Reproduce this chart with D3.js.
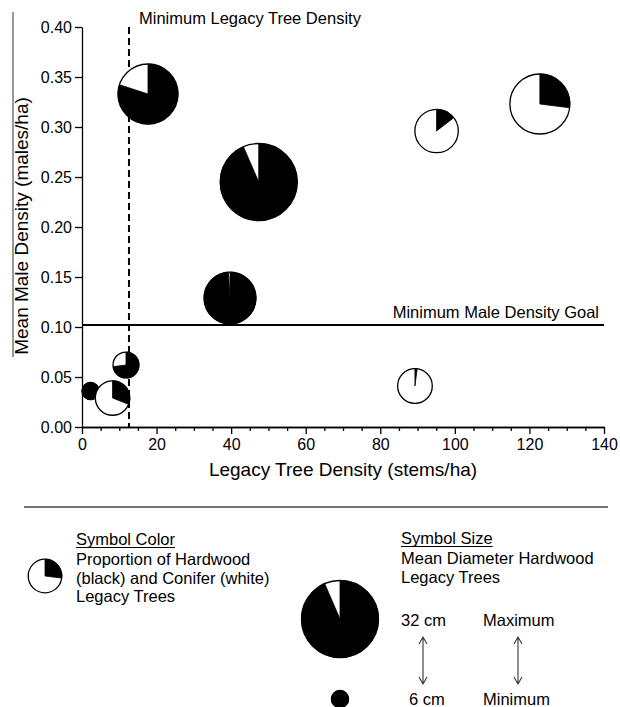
<!DOCTYPE html>
<html>
<head>
<meta charset="utf-8">
<script src="https://cdnjs.cloudflare.com/ajax/libs/d3/7.8.5/d3.min.js"></script>
<style>
  body { margin: 0; background: #fff; }
  svg { display: block; font-family: "Liberation Sans", Arial, sans-serif; }
  .axis path, .axis line { stroke: #000; stroke-width: 1.3; }
  .axis text { font-size: 16px; fill: #000; }
</style>
</head>
<body>
<svg id="chart" width="620" height="707"></svg>
<script>
// site values
const legacyDensity = [2.3, 8.2, 11.8, 17.7, 39.7, 47.4, 89.3, 95.1, 122.8];     // stems/ha
const maleDensity   = [0.036, 0.029, 0.062, 0.333, 0.129, 0.245, 0.041, 0.296, 0.323]; // males/ha
const hardwoodShare = [1.00, 0.31, 0.73, 0.80, 0.99, 0.935, 0.02, 0.145, 0.27];  // black part
const meanDiameter  = [6, 13.5, 9.8, 24.6, 21.1, 32, 13.6, 17.4, 24.6];           // cm

const xTicks = [0, 20, 40, 60, 80, 100, 120, 140];
const yTicks = [0.00, 0.05, 0.10, 0.15, 0.20, 0.25, 0.30, 0.35, 0.40];
const minLegacyDensity = 12.6;
const minMaleDensity = 0.102;

// legend: size key uses the largest and smallest site, colour key a mixed site
const sizeKeyLabels = ["32 cm", "6 cm"];
const sizeKeyNames = ["Maximum", "Minimum"];
const sizeKeySites = [5, 0];
const colorKeySite = 8;
const colorKeyLines = ["Proportion of Hardwood", "(black) and Conifer (white)", "Legacy Trees"];
const sizeKeyLines = ["Mean  Diameter Hardwood", "Legacy Trees"];

const svg = d3.select("#chart");

const x = d3.scaleLinear().domain([0, 140]).range([82, 604]);
const y = d3.scaleLinear().domain([0, 0.4]).range([427, 27]);
const r = d3.scaleLinear().domain([6, 32]).range([8.6, 38.5]);

const pie = d3.pie().sort(null).value(d => d);
const arc = d3.arc().innerRadius(0);

function drawPie(g, cx, cy, radius, share) {
    const p = g.append("g").attr("transform", `translate(${cx},${cy})`);
    p.append("circle").attr("r", radius)
        .attr("fill", "#fff").attr("stroke", "#000").attr("stroke-width", 1.3);
    const slices = pie([share, 1 - share]);
    p.append("path")
        .attr("d", arc.outerRadius(radius)(slices[0]))
        .attr("fill", "#000").attr("stroke", "#000").attr("stroke-width", 0.8);
}

// stray frame line at the left edge
svg.append("line").attr("x1", 13).attr("x2", 13).attr("y1", 12).attr("y2", 357)
    .attr("stroke", "#333").attr("stroke-width", 1);

// axes
svg.append("g").attr("class", "axis")
    .attr("transform", "translate(82,0)")
    .call(d3.axisLeft(y).tickValues(yTicks).tickSize(7).tickSizeOuter(0).tickPadding(3)
        .tickFormat(d3.format(".2f")));

const minorX = d3.range(0, 141, 5).filter(v => v % 20 !== 0);
svg.append("g").attr("class", "axis")
    .attr("transform", "translate(0,427)")
    .call(d3.axisBottom(x).tickValues(minorX).tickSize(4).tickSizeOuter(0).tickFormat(""));
svg.append("g").attr("class", "axis")
    .attr("transform", "translate(0,427)")
    .call(d3.axisBottom(x).tickValues(xTicks).tickSize(7).tickSizeOuter(0).tickPadding(5));

svg.append("text")
    .attr("x", 343).attr("y", 476).attr("text-anchor", "middle")
    .attr("font-size", 19).text("Legacy Tree Density (stems/ha)");
svg.append("text")
    .attr("transform", "translate(28,226) rotate(-90)")
    .attr("text-anchor", "middle").attr("font-size", 19)
    .text("Mean Male Density (males/ha)");

// reference lines
svg.append("line")
    .attr("x1", x(minLegacyDensity)).attr("x2", x(minLegacyDensity))
    .attr("y1", y(0.4)).attr("y2", y(0))
    .attr("stroke", "#000").attr("stroke-width", 2).attr("stroke-dasharray", "7,4");
svg.append("text").attr("x", x(minLegacyDensity) + 10).attr("y", 24)
    .attr("font-size", 16.5).text("Minimum  Legacy Tree Density");

svg.append("line")
    .attr("x1", x(0)).attr("x2", x(140))
    .attr("y1", y(minMaleDensity)).attr("y2", y(minMaleDensity))
    .attr("stroke", "#000").attr("stroke-width", 2);
svg.append("text").attr("x", 599).attr("y", y(minMaleDensity) - 7)
    .attr("text-anchor", "end").attr("font-size", 16.5).text("Minimum Male Density Goal");

// pie symbols
const sites = legacyDensity.map((v, i) => ({
    lx: v, my: maleDensity[i], share: hardwoodShare[i], diam: meanDiameter[i]
}));
const plot = svg.append("g");
sites.forEach(d => drawPie(plot, x(d.lx), y(d.my), r(d.diam), d.share));

// legend
svg.append("line").attr("x1", 24).attr("x2", 608).attr("y1", 507).attr("y2", 507)
    .attr("stroke", "#444").attr("stroke-width", 1.5);

const legend = svg.append("g").attr("font-size", 16.5);

function heading(txt, lx, ly) {
    const t = legend.append("text").attr("x", lx).attr("y", ly).text(txt);
    const w = t.node().getComputedTextLength();
    legend.append("line").attr("x1", lx).attr("x2", lx + w)
        .attr("y1", ly + 2.5).attr("y2", ly + 2.5)
        .attr("stroke", "#000").attr("stroke-width", 1.2);
}

heading("Symbol Color", 76, 545);
colorKeyLines.forEach((s, i) => legend.append("text").attr("x", 76).attr("y", 565 + i * 18.5).text(s));
drawPie(legend, 45, 576, 16.8, hardwoodShare[colorKeySite]);

heading("Symbol Size", 401, 544);
sizeKeyLines.forEach((s, i) => legend.append("text").attr("x", 401).attr("y", 563.5 + i * 19.5).text(s));

const keyY = [619, 699];
sizeKeySites.forEach((si, i) => drawPie(legend, 340, keyY[i], r(meanDiameter[si]), hardwoodShare[si]));

const labelY = [626, 705];
sizeKeyLabels.forEach((s, i) => legend.append("text").attr("x", i === 0 ? 401 : 409).attr("y", labelY[i]).text(s));
sizeKeyNames.forEach((s, i) => legend.append("text").attr("x", 483).attr("y", labelY[i]).text(s));

// double-headed arrows between max and min
[423, 518].forEach(ax => {
    const top = 637, bot = 684;
    legend.append("path")
        .attr("d", `M${ax},${top}V${bot}M${ax - 4},${top + 7}L${ax},${top}L${ax + 4},${top + 7}` +
                   `M${ax - 4},${bot - 7}L${ax},${bot}L${ax + 4},${bot - 7}`)
        .attr("fill", "none").attr("stroke", "#333").attr("stroke-width", 1.1);
});
</script>
</body>
</html>
